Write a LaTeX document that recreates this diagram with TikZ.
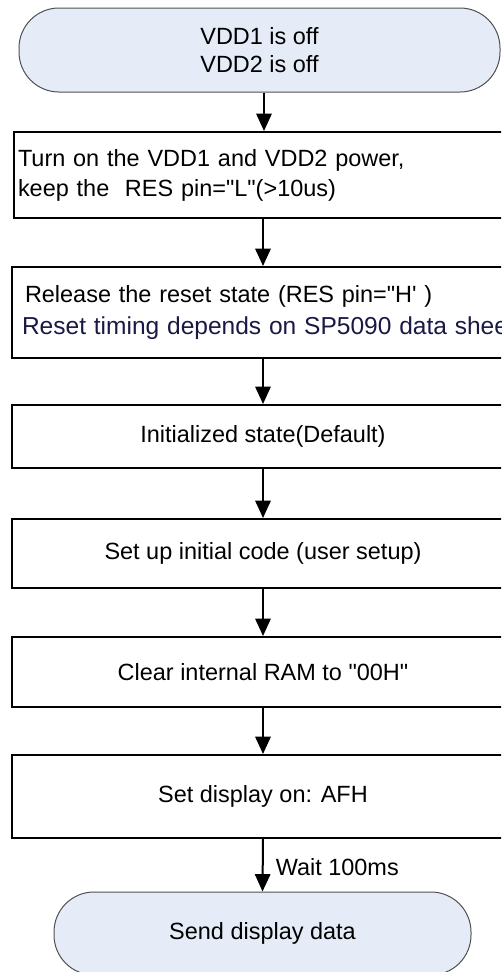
\documentclass[tikz,border=0pt]{standalone}
\usepackage{fontspec}
\setmainfont{Liberation Sans}[Ligatures=TeXOff]
\usetikzlibrary{arrows.meta}
\tikzset{every picture/.style={line width=0.75pt}}

\begin{document}
\begin{tikzpicture}[x=0.75pt,y=0.75pt,yscale=-1,xscale=1,
  boxfont/.style={font=\fontsize{17.6}{21}\selectfont},
  stepbox/.style={draw,line width=1.5pt,rectangle,minimum width=376.5pt,inner sep=0pt,boxfont},
  termbox/.style={draw={rgb,255:red,80;green,80;blue,80},fill={rgb,255:red,230;green,236;blue,247},rounded corners=30pt,line width=0.75pt,inner sep=0pt,boxfont},
  flowarrow/.style={line width=1.5pt,-{Triangle[width=11.5pt,length=13pt]}}]
%set diagram frame: 501 x 972
\useasboundingbox (0,0) rectangle (501,972);
\clip (0,0) rectangle (501,972);

%Shape: Terminal [start]
\node [termbox,minimum width=360.75pt,minimum height=63pt,align=center] (off) at (259.5,50) {VDD1 is off\\VDD2 is off};
%Shape: Rectangle [power on]
\node [stepbox,minimum width=375pt,minimum height=64.5pt,text width=369pt,inner xsep=3pt,align=left,font=\fontsize{17.6}{22.5}\selectfont] (power) at (264,175) {Turn on the VDD1 and VDD2 power,\\keep the\ \ RES pin="L"(>10us)};
%Shape: Rectangle [reset release]
\node [stepbox,minimum height=68.25pt,text width=361.5pt,inner xsep=7.5pt,align=left,font=\fontsize{17.6}{24}\selectfont] (reset) at (263,312.5) {\hspace*{2.25pt}Release the reset state (RES pin="H' )\\\mbox{\fontsize{18.4}{24}\selectfont\color[RGB]{25,25,70}Reset timing depends on SP5090 data sheet}};
%Shape: Rectangle [default]
\node [stepbox,minimum height=47.25pt] (init) at (263,436.5) {Initialized state(Default)};
%Shape: Rectangle [user setup]
\node [stepbox,minimum height=51.75pt] (setup) at (263,553.5) {Set up initial code (user setup)};
%Shape: Rectangle [clear ram]
\node [stepbox,minimum height=52.5pt] (clear) at (263,672) {Clear internal RAM to "00H"};
%Shape: Rectangle [display on]
\node [stepbox,minimum height=62.25pt] (dispon) at (263,796.5) {Set display on: AFH};
%Shape: Terminal [end]
\node [termbox,minimum width=312.75pt,minimum height=62.25pt] (send) at (262.5,933.5) {Send display data};

%Straight Lines [arrows]
\draw [flowarrow] (power.north |- off.south) -- (power.north);
\draw [flowarrow] (reset.north |- power.south) -- (reset.north);
\draw [flowarrow] (reset.south) -- (init.north);
\draw [flowarrow] (init.south) -- (setup.north);
\draw [flowarrow] (setup.south) -- (clear.north);
\draw [flowarrow] (clear.south) -- (dispon.north);
\draw [flowarrow] (dispon.south) -- node [anchor=west,inner sep=0pt,xshift=9pt,yshift=-1.5pt,boxfont] (wait) {Wait 100ms} (send.north);

\end{tikzpicture}
\end{document}
